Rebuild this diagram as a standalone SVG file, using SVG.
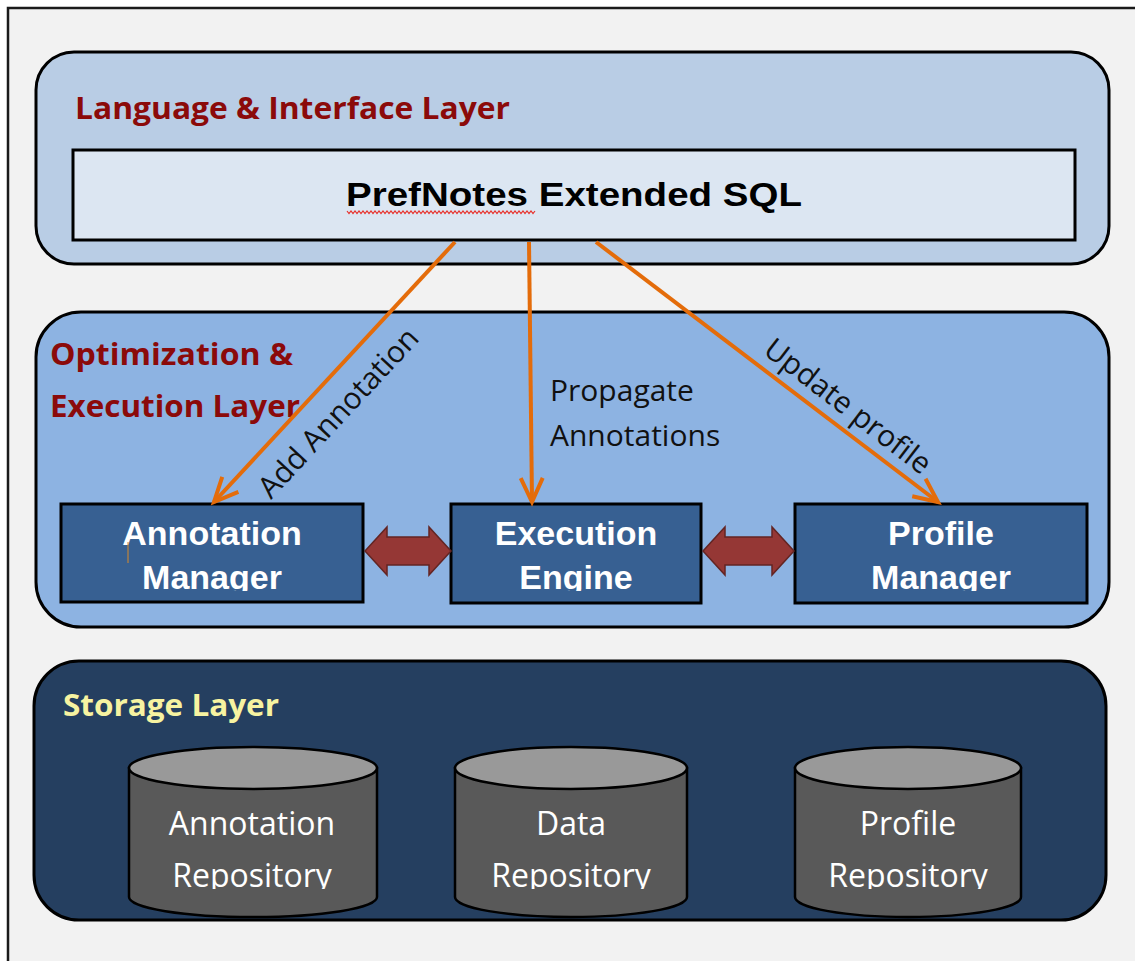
<svg xmlns="http://www.w3.org/2000/svg" width="1135" height="961" viewBox="0 0 1135 961">
<style>
.layer{stroke:#000;stroke-width:3}
.title{font-family:"Open Sans","Liberation Sans",sans-serif;font-weight:bold;font-size:30px;fill:#8b0a0a}
.box{fill:#376092;stroke:#000;stroke-width:3}
.boxt{font-family:"Liberation Sans",Arial,sans-serif;font-weight:bold;font-size:34px;fill:#fff;text-anchor:middle}
.lbl{font-family:"Open Sans","Liberation Sans",sans-serif;font-size:30px;fill:#111}
.cylb{fill:#595959;stroke:#000;stroke-width:2.5}
.cylt{fill:#999;stroke:#000;stroke-width:2.5}
.cyltext{font-family:"Open Sans","Liberation Sans",sans-serif;font-size:32px;fill:#fff;text-anchor:middle}
.conn{stroke:#e46c0a;stroke-width:4;fill:none}
.dbl{fill:#953735;stroke:#632523;stroke-width:1.5}
</style>
<defs>
<marker id="ah" markerUnits="userSpaceOnUse" markerWidth="40" markerHeight="40" viewBox="-30 -20 40 40" refX="0" refY="0" orient="auto">
<path d="M-24,-11 L0,0 L-24,11" fill="none" stroke="#e46c0a" stroke-width="4" stroke-linejoin="miter"/>
</marker>
<clipPath id="clipBox"><rect x="0" y="0" width="1135" height="591"/></clipPath>
<clipPath id="clipCyl"><rect x="0" y="0" width="1135" height="889"/></clipPath>
</defs>
<rect x="0" y="0" width="1135" height="961" fill="#fff"/>
<rect x="8" y="8" width="1150" height="970" fill="#f2f2f2" stroke="#1a1a1a" stroke-width="2.5"/>

<g id="layer-language">
<rect class="layer" x="36" y="52" width="1073" height="212" rx="38" fill="#b9cde5"/>
<text class="title" x="75" y="119" textLength="435" lengthAdjust="spacingAndGlyphs">Language &amp; Interface Layer</text>
</g>
<g id="node-sql">
<rect x="73" y="150" width="1002" height="90" fill="#dce6f2" stroke="#000" stroke-width="3"/>
<text x="574" y="206" font-family="Liberation Sans, Arial, sans-serif" font-weight="bold" font-size="34" fill="#000" text-anchor="middle" textLength="456" lengthAdjust="spacingAndGlyphs">PrefNotes Extended SQL</text>
<path d="M347,211 l2,2.5 l2,-2.5 l2,2.5 l2,-2.5 l2,2.5 l2,-2.5 l2,2.5 l2,-2.5 l2,2.5 l2,-2.5 l2,2.5 l2,-2.5 l2,2.5 l2,-2.5 l2,2.5 l2,-2.5 l2,2.5 l2,-2.5 l2,2.5 l2,-2.5 l2,2.5 l2,-2.5 l2,2.5 l2,-2.5 l2,2.5 l2,-2.5 l2,2.5 l2,-2.5 l2,2.5 l2,-2.5 l2,2.5 l2,-2.5 l2,2.5 l2,-2.5 l2,2.5 l2,-2.5 l2,2.5 l2,-2.5 l2,2.5 l2,-2.5 l2,2.5 l2,-2.5 l2,2.5 l2,-2.5 l2,2.5 l2,-2.5 l2,2.5 l2,-2.5 l2,2.5 l2,-2.5 l2,2.5 l2,-2.5 l2,2.5 l2,-2.5 l2,2.5 l2,-2.5 l2,2.5 l2,-2.5 l2,2.5 l2,-2.5 l2,2.5 l2,-2.5 l2,2.5 l2,-2.5 l2,2.5 l2,-2.5 l2,2.5 l2,-2.5 l2,2.5 l2,-2.5 l2,2.5 l2,-2.5 l2,2.5 l2,-2.5 l2,2.5 l2,-2.5 l2,2.5 l2,-2.5 l2,2.5 l2,-2.5 l2,2.5 l2,-2.5 l2,2.5 l2,-2.5 l2,2.5 l2,-2.5 l2,2.5 l2,-2.5 l2,2.5 l2,-2.5 l2,2.5 l2,-2.5 l2,2.5 l2,-2.5" fill="none" stroke="#e8302a" stroke-width="1.2"/>
</g>

<g id="layer-optimization">
<rect class="layer" x="36" y="312" width="1073" height="315" rx="45" fill="#8db3e2"/>
<text class="title" x="50" y="365" textLength="243" lengthAdjust="spacingAndGlyphs">Optimization &amp;</text>
<text class="title" x="50" y="417" textLength="250" lengthAdjust="spacingAndGlyphs">Execution Layer</text>
</g>

<g id="layer-storage">
<rect class="layer" x="34" y="661" width="1072" height="259" rx="45" fill="#253f60"/>
<text class="title" x="63" y="716" textLength="216" lengthAdjust="spacingAndGlyphs" style="fill:#f7f3a1">Storage Layer</text>
</g>

<g id="node-annotation-manager">
<rect class="box" x="61" y="504" width="302" height="98"/>
<g clip-path="url(#clipBox)">
<text class="boxt" x="212" y="545">Annotation</text>
<text class="boxt" x="212" y="589">Manager</text>
</g>
<line x1="128" y1="542" x2="128" y2="563" stroke="#d98a2b" stroke-width="1"/>
</g>
<g id="node-execution-engine">
<rect class="box" x="451" y="504" width="250" height="99"/>
<g clip-path="url(#clipBox)">
<text class="boxt" x="576" y="545">Execution</text>
<text class="boxt" x="576" y="589">Engine</text>
</g>
</g>
<g id="node-profile-manager">
<rect class="box" x="795" y="504" width="292" height="99"/>
<g clip-path="url(#clipBox)">
<text class="boxt" x="941" y="545">Profile</text>
<text class="boxt" x="941" y="589">Manager</text>
</g>
</g>

<g id="node-annotation-repository">
<path class="cylb" d="M129,768 L129,897 A124,20 0 0 0 377,897 L377,768 Z"/>
<ellipse class="cylt" cx="253" cy="768" rx="124" ry="21"/>
<g clip-path="url(#clipCyl)">
<text class="cyltext" x="252" y="835">Annotation</text>
<text class="cyltext" x="252" y="887">Repository</text>
</g>
</g>
<g id="node-data-repository">
<path class="cylb" d="M455,768 L455,897 A116,20 0 0 0 687,897 L687,768 Z"/>
<ellipse class="cylt" cx="571" cy="768" rx="116" ry="21"/>
<g clip-path="url(#clipCyl)">
<text class="cyltext" x="571" y="835">Data</text>
<text class="cyltext" x="571" y="887">Repository</text>
</g>
</g>
<g id="node-profile-repository">
<path class="cylb" d="M795,768 L795,897 A113,20 0 0 0 1021,897 L1021,768 Z"/>
<ellipse class="cylt" cx="908" cy="768" rx="113" ry="21"/>
<g clip-path="url(#clipCyl)">
<text class="cyltext" x="908" y="835">Profile</text>
<text class="cyltext" x="908" y="887">Repository</text>
</g>
</g>

<g id="connectors">
<line class="conn" x1="455" y1="242" x2="214" y2="502" marker-end="url(#ah)"/>
<line class="conn" x1="529" y1="242" x2="532" y2="502" marker-end="url(#ah)"/>
<line class="conn" x1="596" y1="242" x2="938" y2="502" marker-end="url(#ah)"/>
<path class="dbl" d="M365,551 L387,527 L387,537 L429,537 L429,527 L451,551 L429,575 L429,565 L387,565 L387,575 Z"/>
<path class="dbl" d="M703,551 L725,527 L725,537 L772,537 L772,527 L794,551 L772,575 L772,565 L725,565 L725,575 Z"/>
<text class="lbl" transform="translate(271,500) rotate(-47)">Add Annotation</text>
<text class="lbl" x="550" y="401">Propagate</text>
<text class="lbl" x="550" y="446">Annotations</text>
<text class="lbl" transform="translate(762,353) rotate(37.5)">Update profile</text>
</g>
</svg>
